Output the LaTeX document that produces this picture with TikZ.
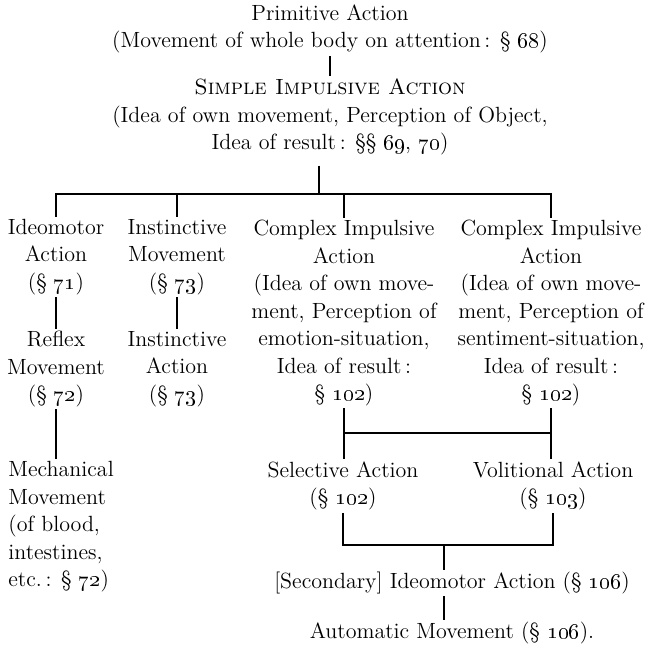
\documentclass[tikz,border=0pt]{standalone}
\usepackage{tikz}
\tikzstyle{entry}=[align=center,inner sep=1pt,font=\fontsize{11}{13.75}\selectfont]
\tikzstyle{lentry}=[entry,align=left,anchor=north west]
\tikzstyle{link}=[line width=0.65pt]
\usetikzlibrary{positioning}
\newcommand{\os}[1]{\oldstylenums{#1}}

\begin{document}
\begin{tikzpicture}[x=0.5pt,y=-0.5pt]
            \useasboundingbox (0,0) rectangle (656,645);

            % TOP PART

            \node[entry] (prim) at (330,29) {Primitive Action\\(Movement of whole body on attention\,: \S~\os{68})};
            \node[entry] (simple) at (330,117) {\textsc{Simple Impulsive Action}\\(Idea of own movement, Perception of Object,\\Idea of result\,: \S\S~\os{69}, \os{70})};
            \coordinate (split) at (319,194);

            \path[link] (prim) edge (simple);

            % FIRST ROW

            \node[entry] (ideo) at (56,257) {Ideomotor\\Action\\(\S~\os{71})};
            \node[entry] (instm) at (177,257) {Instinctive\\Movement\\(\S~\os{73})};
            \node[entry] (cia1) at (344,313) {Complex Impulsive\\Action\\(Idea of own move-\\ment, Perception of\\emotion-situation,\\Idea of result\,:\\\S~\os{102})};
            \node[entry] (cia2) at (551,313) {Complex Impulsive\\Action\\(Idea of own move-\\ment, Perception of\\sentiment-situation,\\Idea of result\,:\\\S~\os{102})};

            \draw[link,shorten <=4pt] (simple.south -| split) -- (split);
            \draw[link] (ideo.north) -- (ideo.north |- split) -- (cia2.north |- split) -- (cia2.north);
            \draw[link] (instm.north) -- (instm.north |- split);
            \draw[link] (cia1.north) -- (cia1.north |- split);

            % SECOND ROW

            \node[entry] (reflex) at (56,369) {Reflex\\Movement\\(\S~\os{72})};
            \node[entry] (insta) at (177,369) {Instinctive\\Action\\(\S~\os{73})};
            \node[lentry] (mech) at (6,459) {Mechanical\\Movement\\(of blood,\\intestines,\\etc.\,: \S~\os{72})};

            \path[link] (ideo) edge (reflex);
            \path[link] (instm) edge (insta);
            \draw[link] (reflex.south) -- (reflex.south |- mech.north);

            % LOWER PART

            \node[entry] (sel) at (343,486) {Selective Action\\(\S~\os{102})};
            \node[entry] (vol) at (553,486) {Volitional Action\\(\S~\os{103})};
            \coordinate (cross) at (0,433);

            \draw[link] (cia1.south) -- (cia1.south |- sel.north);
            \draw[link] (cia2.south) -- (cia2.south |- vol.north);
            \draw[link] (cia1.south |- cross) -- (cia2.south |- cross);

            \node[entry] (sec) at (452,583) {[Secondary] Ideomotor Action (\S~\os{106})};
            \node[entry] (auto) at (452,633) {Automatic Movement (\S~\os{106}).};
            \coordinate (join) at (444,545);

            \draw[link] (sel.south) -- (sel.south |- join) -- (vol.south |- join) -- (vol.south);
            \draw[link] (join) -- (join |- sec.north);
            \draw[link] (sec.south -| join) -- (auto.north -| join);

        \end{tikzpicture}
\end{document}
